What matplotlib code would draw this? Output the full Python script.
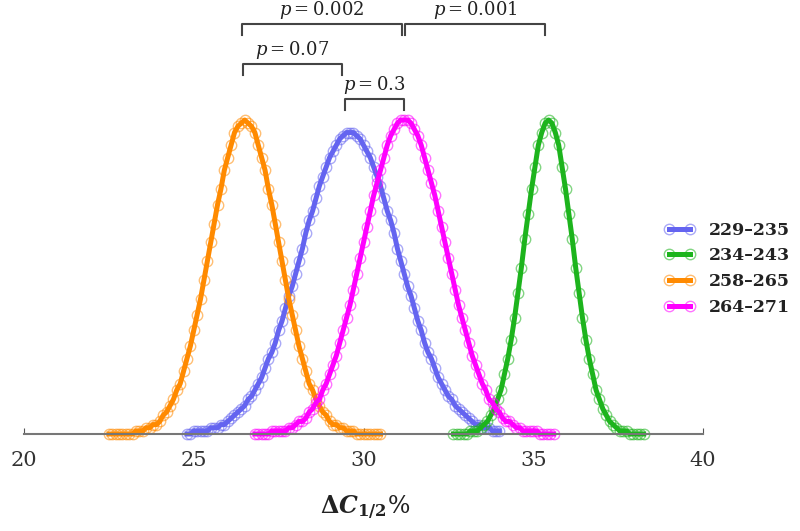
import matplotlib
matplotlib.use("Agg")
import matplotlib.pyplot as plt
import numpy as np

# series (heights relative to the tallest peak)
labels = ["229\u2013235", "234\u2013243", "258\u2013265", "264\u2013271"]
colors = ["#6464f0", "#1db41d", "#ff8a00", "#ff00ff"]

blue_x = np.linspace(24.8, 34.0, 93)
blue_y = [0.00, 0.00, 0.01, 0.01, 0.01, 0.01, 0.01, 0.02, 0.02, 0.02, 0.03, 0.03,
          0.04, 0.05, 0.06, 0.07, 0.08, 0.09, 0.11, 0.12, 0.14, 0.16, 0.18, 0.21,
          0.24, 0.26, 0.29, 0.33, 0.36, 0.40, 0.44, 0.47, 0.51, 0.55, 0.59, 0.64,
          0.68, 0.71, 0.75, 0.79, 0.82, 0.85, 0.88, 0.90, 0.92, 0.94, 0.95, 0.96,
          0.96,
          0.96, 0.95, 0.94, 0.92, 0.90, 0.88, 0.85, 0.82, 0.79, 0.75, 0.71, 0.68,
          0.64, 0.59, 0.55, 0.51, 0.47, 0.44, 0.40, 0.36, 0.33, 0.29, 0.26, 0.24,
          0.21, 0.18, 0.16, 0.14, 0.12, 0.11, 0.09, 0.08, 0.07, 0.06, 0.05, 0.04,
          0.03, 0.03, 0.02, 0.02, 0.02, 0.01, 0.01, 0.01]

green_x = np.linspace(32.65, 38.25, 57)
green_y = [0.00, 0.00, 0.00, 0.00, 0.00, 0.01, 0.01, 0.01, 0.02, 0.03, 0.04, 0.06,
           0.08, 0.11, 0.14, 0.19, 0.24, 0.30, 0.37, 0.45, 0.53, 0.62, 0.70, 0.78,
           0.85, 0.92, 0.96, 0.99,
           1.00,
           0.99, 0.96, 0.92, 0.85, 0.78, 0.70, 0.62, 0.53, 0.45, 0.37, 0.30, 0.24,
           0.19, 0.14, 0.11, 0.08, 0.06, 0.04, 0.03, 0.02, 0.01, 0.01, 0.01, 0.00,
           0.00, 0.00, 0.00, 0.00]

orange_x = np.linspace(22.5, 30.5, 81)
orange_y = [0.00, 0.00, 0.00, 0.00, 0.00, 0.00, 0.00, 0.00, 0.01, 0.01, 0.01, 0.02,
            0.02, 0.03, 0.03, 0.04, 0.06, 0.07, 0.09, 0.11, 0.14, 0.16, 0.20, 0.24,
            0.28, 0.33, 0.38, 0.43, 0.49, 0.55, 0.61, 0.67, 0.73, 0.78, 0.84, 0.88,
            0.92, 0.96, 0.98, 0.99,
            1.00,
            0.99, 0.98, 0.96, 0.92, 0.88, 0.84, 0.78, 0.73, 0.67, 0.61, 0.55, 0.49,
            0.43, 0.38, 0.33, 0.28, 0.24, 0.20, 0.16, 0.14, 0.11, 0.09, 0.07, 0.06,
            0.04, 0.03, 0.03, 0.02, 0.02, 0.01, 0.01, 0.01, 0.00, 0.00, 0.00, 0.00,
            0.00, 0.00, 0.00, 0.00]

magenta_x = np.linspace(26.8, 35.6, 89)
magenta_y = [0.00, 0.00, 0.00, 0.00, 0.00, 0.01, 0.01, 0.01, 0.01, 0.01, 0.02, 0.02,
             0.03, 0.04, 0.04, 0.05, 0.07, 0.08, 0.10, 0.11, 0.14, 0.16, 0.19, 0.22,
             0.25, 0.29, 0.33, 0.37, 0.41, 0.46, 0.51, 0.56, 0.61, 0.66, 0.71, 0.76,
             0.80, 0.84, 0.88, 0.92, 0.95, 0.97, 0.99, 1.00,
             1.00,
             1.00, 0.99, 0.97, 0.95, 0.92, 0.88, 0.84, 0.80, 0.76, 0.71, 0.66, 0.61,
             0.56, 0.51, 0.46, 0.41, 0.37, 0.33, 0.29, 0.25, 0.22, 0.19, 0.16, 0.14,
             0.11, 0.10, 0.08, 0.07, 0.05, 0.04, 0.04, 0.03, 0.02, 0.02, 0.01, 0.01,
             0.01, 0.01, 0.01, 0.00, 0.00, 0.00, 0.00, 0.00]

xs = [blue_x, green_x, orange_x, magenta_x]
ys = [blue_y, green_y, orange_y, magenta_y]

# significance brackets (group means they join, p value)
br_left = [26.42, 31.22, 26.45, 29.46]
br_right = [31.13, 35.35, 29.37, 31.19]
br_text = ["0.002", "0.001", "0.07", "0.3"]
br_level = [1.306, 1.306, 1.178, 1.067]

plt.rcParams["font.family"] = "DejaVu Serif"
plt.rcParams["mathtext.fontset"] = "dejavuserif"

fig = plt.figure(figsize=(8, 5.31), dpi=100)
ax = fig.add_axes([24/800, 97/531, 679/800, 434/531])

for x, y, c, lab in zip(xs, ys, colors, labels):
    rgb = matplotlib.colors.to_rgb(c)
    ax.plot(x, y, color=c, lw=3.6, marker="o", ms=7.5, mfc="none",
            mec=rgb + (0.55,), mew=1.0, label=lab, clip_on=False)

for l, r, t, lev in zip(br_left, br_right, br_text, br_level):
    ax.plot([l, l, r, r], [lev - 0.035, lev, lev, lev - 0.035], color="#444444",
            lw=1.5, clip_on=False)
    ax.text((l + r) / 2, lev + 0.028, "$p = " + t + "$", ha="center", va="baseline",
            fontsize=13, color="#222222")

ax.set_xlim(20, 40)
ax.set_ylim(0, 434/314)
ax.set_xticks([20, 25, 30, 35, 40])
ax.set_yticks([])
for s in ["left", "top", "right"]:
    ax.spines[s].set_visible(False)
ax.spines["bottom"].set_color("#777777")
ax.spines["bottom"].set_linewidth(1.5)
ax.tick_params(axis="x", direction="in", length=4, color="#555555",
               labelsize=15, labelcolor="#333333", pad=12)
ax.patch.set_visible(False)

fig.text(365/800, 1 - 508/531, r"$\mathbf{\Delta}\mathbfit{C}_{\mathbf{1/2}}$%",
         ha="center", va="center", fontsize=17, color="#222222")

fig.legend(loc="upper left", bbox_to_anchor=(655/800, 1 - 213/531),
           frameon=False, numpoints=2, handlelength=1.8, handletextpad=0.8,
           labelspacing=0.5, borderpad=0,
           prop={"size": 12.5, "weight": "bold"}, labelcolor="#222222")

fig.savefig("out.png", dpi=100)
